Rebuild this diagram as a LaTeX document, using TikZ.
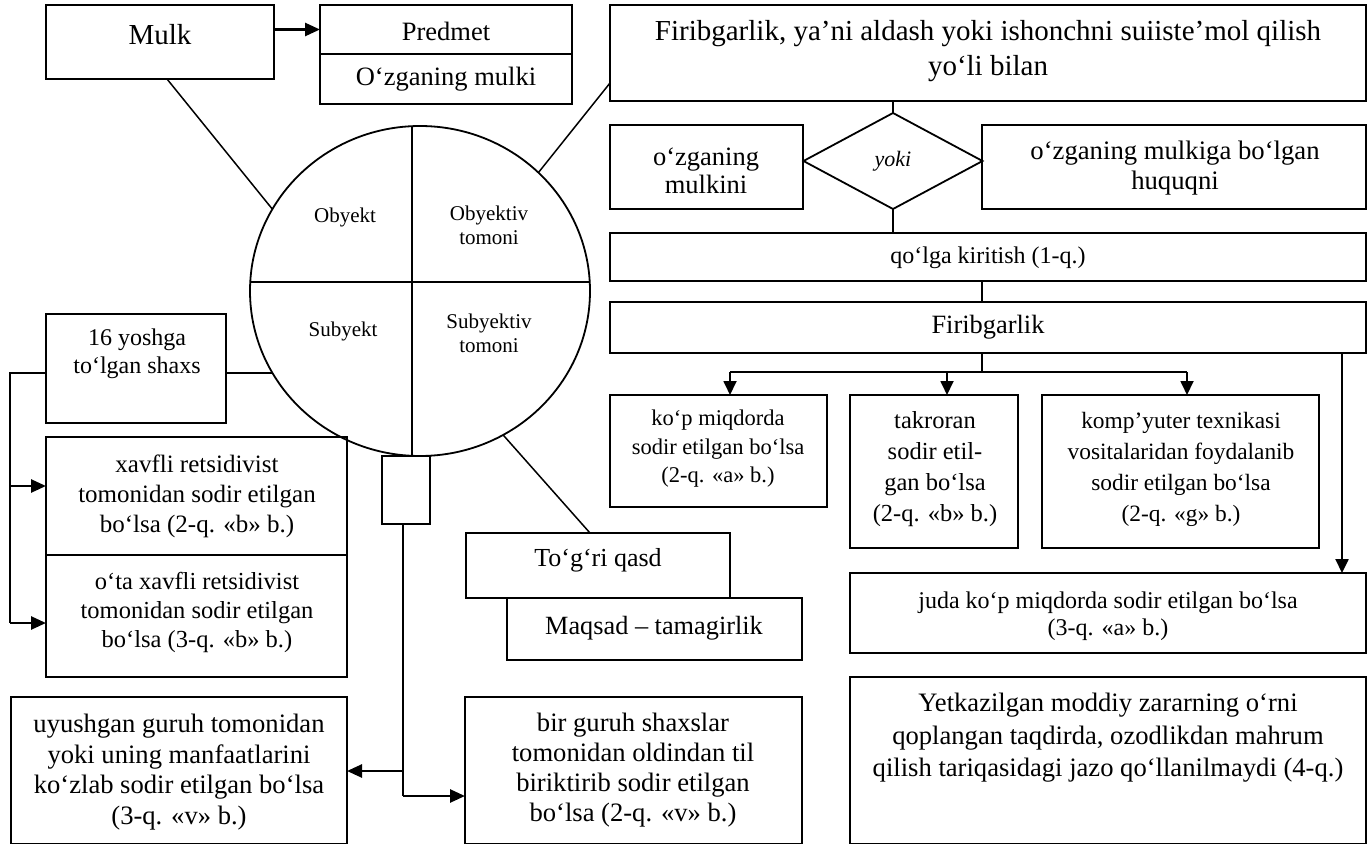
\documentclass[tikz,border=0pt]{standalone}
\usepackage{fontspec}
\setmainfont{Liberation Serif}
\usetikzlibrary{shapes.geometric,fit,arrows.meta}
\begin{document}
\begin{tikzpicture}[x=1pt,y=-1pt,
  box/.style={draw, line width=1.8pt, inner sep=0pt, outer sep=0pt},
  txt/.style={inner sep=0pt, outer sep=0pt, align=center},
  conn/.style={line width=1.5pt},
  arr/.style={line width=2.6pt, -{Triangle[length=15pt,width=13pt]}},
  arrd/.style={line width=1.8pt, -{Triangle[length=14pt,width=13pt]}},
  fA/.style={font=\fontsize{26.5}{30.5}\selectfont},
  fC/.style={font=\fontsize{21}{24}\selectfont}]
\useasboundingbox (0,0) rectangle (1370,845);

% ---------- top left
\node[box, fit={(46,5) (274,79)}] (mulk) {};
\node[txt, font=\fontsize{29}{34}\selectfont] (mulkt) at (160,35) {Mulk};
\node[box, fit={(320,5) (572,54)}] (pred) {};
\node[box, fit={(320,54) (572,104)}] (ozm) {};
\node[txt, fA] (predt) at (446,31) {Predmet};
\node[txt, fA] (ozmt) at (446,79) {O‘zganing mulki};

% ---------- ellipse
\begin{scope}
  \clip (420,291) ellipse [x radius=170pt, y radius=165pt];
  \draw[line width=1.7pt] (412,110) -- (412,470);
  \draw[line width=1.7pt] (240,282) -- (600,282);
\end{scope}
\node[box, ellipse, minimum width=340pt, minimum height=330pt] (ell) at (420,291) {};
\node[txt, fC] (obt) at (345,217) {Obyekt};
\node[txt, fC] (obtt) at (489,225) {Obyektiv\\tomoni};
\node[txt, fC] (sbt) at (343,331) {Subyekt};
\node[txt, fC] (sbtt) at (489,333) {Subyektiv\\tomoni};
\node[box, fit={(382,456) (430,524)}] (stem) {};

% ---------- right column
\node[box, fit={(610,5) (1366,101)}] (firtop) {};
\node[txt, font=\fontsize{29}{35}\selectfont] (firtopt) at (988,51) {Firibgarlik, ya’ni aldash yoki ishonchni suiiste’mol qilish\\yo‘li bilan};
\node[box, fit={(610,125) (803,209)}] (ozg) {};
\node[txt, font=\fontsize{26.5}{28.5}\selectfont] (ozgt) at (706,171) {o‘zganing\\mulkini};
\node[box, diamond, minimum width=179pt, minimum height=96pt, font=\fontsize{22}{24}\selectfont\itshape] (dia) at (893,161) {yoki};
\node[box, fit={(982,125) (1366,209)}] (huq) {};
\node[txt, font=\fontsize{26.7}{30}\selectfont] (huqt) at (1175,168) {o‘zganing mulkiga bo‘lgan\\huquqni};
\node[box, fit={(610,233) (1366,281)}] (qolga) {};
\node[txt, font=\fontsize{24}{28}\selectfont] (qolgat) at (988,258) {qo‘lga kiritish (1-q.)};
\node[box, fit={(610,302) (1366,353)}] (firib) {};
\node[txt, font=\fontsize{26.4}{30}\selectfont] (fribt) at (988,327) {Firibgarlik};

\node[box, fit={(610,395) (827,507)}] (kop) {};
\node[txt, font=\fontsize{22.5}{28.5}\selectfont] (kopt) at (718,449) {ko‘p miqdorda\\sodir etilgan bo‘lsa\\(2-q. «a» b.)};
\node[box, fit={(850,395) (1018,548)}] (takr) {};
\node[txt, font=\fontsize{24.5}{31}\selectfont] (takrt) at (935,469) {takroran\\sodir etil-\\gan bo‘lsa\\(2-q. «b» b.)};
\node[box, fit={(1042,395) (1319,548)}] (komp) {};
\node[txt, font=\fontsize{23.4}{31}\selectfont] (kompt) at (1181,469) {komp’yuter texnikasi\\vositalaridan foydalanib\\sodir etilgan bo‘lsa\\(2-q. «g» b.)};
\node[box, fit={(850,573) (1366,653)}] (juda) {};
\node[txt, font=\fontsize{24}{27}\selectfont] (judat) at (1108,616) {juda ko‘p miqdorda sodir etilgan bo‘lsa\\(3-q. «a» b.)};
\node[box, fit={(850,677) (1366,843.5)}] (yetk) {};
\node[txt, font=\fontsize{26.6}{32.5}\selectfont] (yetkt) at (1108,738) {Yetkazilgan moddiy zararning o‘rni\\qoplangan taqdirda, ozodlikdan mahrum\\qilish tariqasidagi jazo qo‘llanilmaydi (4-q.)};

% ---------- left column
\node[box, fit={(46,314) (226,423)}] (yosh) {};
\node[txt, font=\fontsize{24}{28}\selectfont] (yosht) at (137,354) {16 yoshga\\to‘lgan shaxs};
\node[box, fit={(46,437) (347,555)}] (xavf) {};
\node[txt, font=\fontsize{25}{30}\selectfont] (xavft) at (197,496) {xavfli retsidivist\\tomonidan sodir etilgan\\bo‘lsa (2-q. «b» b.)};
\node[box, fit={(46,555) (347,677)}] (ota) {};
\node[txt, font=\fontsize{24.5}{29}\selectfont] (otat) at (197,612) {o‘ta xavfli retsidivist\\tomonidan sodir etilgan\\bo‘lsa (3-q. «b» b.)};
\node[box, fit={(11,697) (347,843.5)}] (uyush) {};
\node[txt, font=\fontsize{26.6}{30.5}\selectfont] (uyusht) at (179,772) {uyushgan guruh tomonidan\\yoki uning manfaatlarini\\ko‘zlab sodir etilgan bo‘lsa\\(3-q. «v» b.)};
\node[box, fit={(465,697) (802,843.5)}] (bir) {};
\node[txt, font=\fontsize{26.6}{30}\selectfont] (birt) at (633,770) {bir guruh shaxslar\\tomonidan oldindan til\\biriktirib sodir etilgan\\bo‘lsa (2-q. «v» b.)};
\node[box, fit={(466,533) (730,598)}] (togri) {};
\node[txt, font=\fontsize{26}{30}\selectfont] (togrit) at (598,560) {To‘g‘ri qasd};
\node[box, fit={(507,598) (802,660)}] (maq) {};
\node[txt, font=\fontsize{26.3}{30}\selectfont] (maqt) at (654,628) {Maqsad – tamagirlik};

% ---------- connectors
\coordinate (ya) at (0,29.5);
\draw[arr] (mulk.east |- ya) -- (pred.west |- ya);
\draw[conn] ([xshift=7pt]mulk.south) -- (ell.151);
\coordinate (yf) at (0,83);
\draw[conn] (ell.45) -- (firtop.west |- yf);
\draw[conn] (ell.209) -- (ell.209 -| yosh.east);
\coordinate (lx) at (10,0);
\coordinate (y486) at (0,486);
\coordinate (y623) at (0,623);
\draw[conn, line width=2pt] (ell.209 -| yosh.west) -- (ell.209 -| lx) -- (lx |- y623);
\draw[arr] (lx |- y486) -- (xavf.west |- y486);
\draw[arr] (lx |- y623) -- (ota.west |- y623);
\draw[conn] (ell.300) -- ([xshift=-8pt]togri.north);

\coordinate (v1) at (403,771);
\coordinate (v2) at (403,796);
\draw[conn] (stem.south -| v1) -- (v2);
\draw[arr] (v1) -- (v1 -| uyush.east);
\draw[arr] (v2) -- (v2 -| bir.west);

\draw[conn] (firtop.south -| dia.north) -- (dia.north);
\draw[conn] (dia.south) -- (dia.south |- qolga.north);
\coordinate (bx) at (982,372);
\draw[conn] (qolga.south -| bx) -- (firib.north -| bx);
\draw[conn] (firib.south -| bx) -- (bx);
\coordinate (b1) at (730,372);
\coordinate (b2) at (947,372);
\coordinate (b3) at (1187,372);
\draw[conn, line width=1.8pt] (b1) -- (b3);
\draw[arrd] (b1) -- (b1 |- kop.north);
\draw[arrd] (b2) -- (b2 |- takr.north);
\draw[arrd] (b3) -- (b3 |- komp.north);
\coordinate (rx) at (1342,0);
\draw[arrd, line width=2.4pt] (firib.south -| rx) -- (juda.north -| rx);
\end{tikzpicture}
\end{document}
